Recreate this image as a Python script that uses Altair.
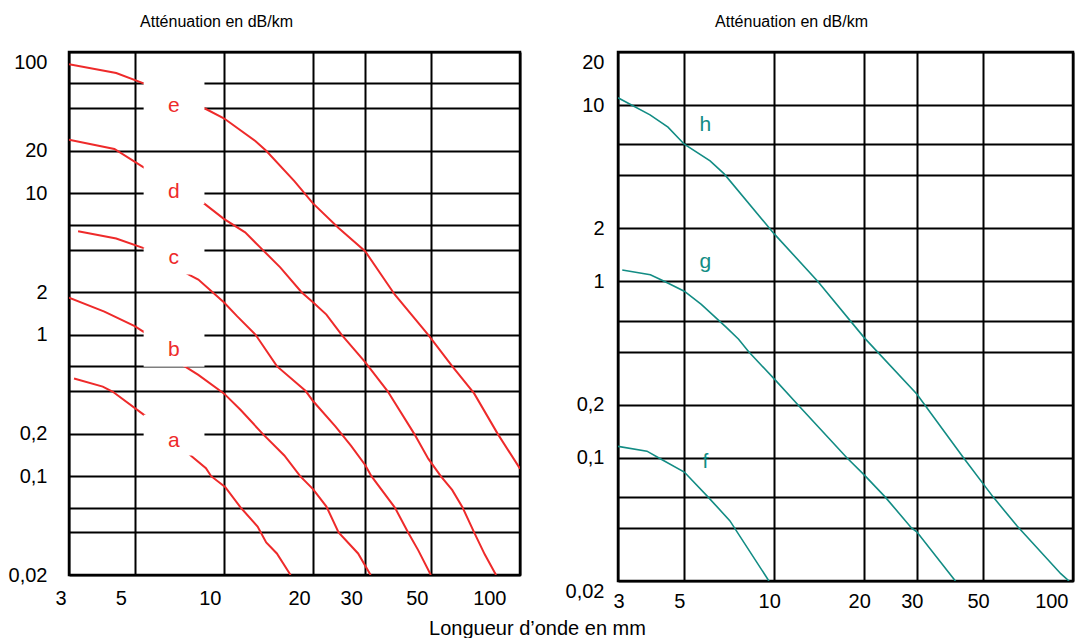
import altair as alt
import pandas as pd

FONT = "Liberation Sans"
RED = "#EE2A2A"
TEAL = "#128C84"

# Axis values
x_ticks = [3, 5, 10, 20, 30, 50, 100]
left_grid_y = [0.02, 0.04, 0.06, 0.1, 0.2, 0.4, 0.6, 1, 2, 4, 6, 10, 20, 40, 60, 100]
left_tick_labels = [0.02, 0.1, 0.2, 1, 2, 10, 20, 100]
right_grid_y = [0.02, 0.04, 0.06, 0.1, 0.2, 0.4, 0.6, 1, 2, 4, 6, 10, 20]
right_tick_labels = [0.02, 0.1, 0.2, 1, 2, 10, 20]

# Left panel curves (wavelength in mm, attenuation in dB/km)
a_x = [3.12, 3.9, 4.22, 5.43, 7.8, 8.7, 9.06, 10.1, 11.4, 13.0, 13.9, 15.1, 16.8]
a_y = [0.49, 0.43, 0.395, 0.267, 0.138, 0.114, 0.1, 0.084, 0.06, 0.044, 0.034, 0.0284, 0.02]
b_x = [3, 3.95, 5, 5.36, 7.36, 8.2, 10, 11.4, 13.5, 16, 18.1, 20, 22.2, 24.4, 28.4, 31.3]
b_y = [1.83, 1.46, 1.15, 1.05, 0.6, 0.52, 0.385, 0.294, 0.2, 0.14, 0.1, 0.081, 0.061, 0.04, 0.0284, 0.02]
c_x = [3.22, 4.33, 5.36, 7.67, 8.2, 10, 11.1, 12.8, 15.1, 18.9, 20, 23.8, 26.9, 30, 31.5, 37.8, 41.9, 45.3, 50]
c_y = [5.4, 4.8, 4.1, 2.64, 2.46, 1.7, 1.35, 1.0, 0.6, 0.4, 0.34, 0.225, 0.164, 0.12, 0.1, 0.06, 0.04, 0.03, 0.02]
d_x = [3, 4.27, 5.36, 8.57, 10, 11.8, 13.5, 15.5, 18.3, 20, 22.2, 25, 30, 35.7, 43.9, 49, 54, 59, 64, 70, 76, 83]
d_y = [24, 20.6, 15.3, 8.5, 6.6, 5.3, 4.0, 3.0, 2.0, 1.7, 1.39, 1.0, 0.64, 0.4, 0.2, 0.133, 0.1, 0.08, 0.06, 0.04, 0.028, 0.02]
e_x = [3, 4.33, 5.36, 8.6, 10, 12.8, 13.9, 17.3, 20, 24.4, 30, 37.8, 49, 59, 70, 84, 100]
e_y = [82, 71, 60, 40, 34, 23.4, 20, 12.2, 8.5, 5.7, 3.9, 1.92, 1.0, 0.6, 0.385, 0.2, 0.113]

# Right panel curves
f_x = [3, 3.75, 4.1, 5, 6.0, 7.1, 9.6]
f_y = [0.116, 0.109, 0.1, 0.083, 0.06, 0.044, 0.02]
g_x = [3.1, 3.85, 4.3, 5, 5.7, 6.9, 7.6, 8.2, 10, 12, 17.5, 20, 23.5, 28.8, 30, 40.4]
g_y = [1.16, 1.09, 1.0, 0.88, 0.74, 0.55, 0.47, 0.4, 0.28, 0.2, 0.1, 0.08, 0.06, 0.04, 0.038, 0.02]
h_x = [3, 3.84, 4.41, 5, 6.1, 6.8, 10, 14, 20, 30, 43, 54, 65, 91, 97]
h_y = [11.0, 8.8, 7.5, 6.0, 4.83, 4.07, 1.86, 1.0, 0.48, 0.23, 0.1, 0.06, 0.041, 0.022, 0.02]

# Curve letters and their white label boxes (left panel)
left_names = ["a", "b", "c", "d", "e"]
left_letter_x = [6.78, 6.78, 6.78, 6.78, 6.78]
left_letter_y = [0.16, 0.71, 3.15, 9.3, 37.7]
box_x1 = [5.36, 5.36, 5.36, 5.36, 5.36]
box_x2 = [8.6, 8.6, 8.6, 8.6, 8.6]
box_top = [0.272, 1.07, 4.16, 15.6, 61.5]
box_bottom = [0.14, 0.595, 2.67, 8.4, 36.1]

right_names = ["f", "g", "h"]
right_letter_x = [5.88, 5.88, 5.88]
right_letter_y = [0.0874, 1.19, 7.1]


def curves(spec):
    rows = []
    for name, xs, ys in spec:
        for xv, yv in zip(xs, ys):
            rows.append({"curve": name, "x": xv, "y": yv})
    return pd.DataFrame(rows)


left_df = curves([("a", a_x, a_y), ("b", b_x, b_y), ("c", c_x, c_y), ("d", d_x, d_y), ("e", e_x, e_y)])
right_df = curves([("f", f_x, f_y), ("g", g_x, g_y), ("h", h_x, h_y)])
left_lab = pd.DataFrame({"name": left_names, "x": left_letter_x, "y": left_letter_y,
                         "x1": box_x1, "x2": box_x2, "y1": box_top, "y2": box_bottom})
right_lab = pd.DataFrame({"name": right_names, "x": right_letter_x, "y": right_letter_y})


def label_expr(vals):
    test = " || ".join(f"datum.value == {v}" for v in vals)
    return f"({test}) ? datum.label : ''"


def panel(df, lab, ydom, grid_y, lab_y, top_test, color, width, height, title_x,
          y_label_pad, x_label_pad, x_label_offset, with_boxes, x_title):
    xscale = alt.Scale(type="log", domain=[3, 100], nice=False)
    yscale = alt.Scale(type="log", domain=ydom, nice=False)
    xaxis_kwargs = dict(values=x_ticks, format="~g", grid=True, ticks=False, domain=False,
                        labelFlush=True, labelPadding=x_label_pad,
                        labelOffset=x_label_offset)
    if x_title:
        xaxis_kwargs.update(title="Longueur d’onde en mm", titleX=468, titleY=59,
                            titleAlign="center", titleBaseline="alphabetic",
                            titleFontSize=20)
    else:
        xaxis_kwargs.update(title=None)
    x_enc = alt.X("x:Q", scale=xscale, axis=alt.Axis(**xaxis_kwargs))
    y_enc = alt.Y("y:Q", scale=yscale, axis=alt.Axis(
        values=grid_y, format="~g", labelExpr=label_expr(lab_y), grid=True, ticks=False,
        domain=False, labelPadding=y_label_pad, labelOverlap=False,
        labelBaseline={"condition": {"test": top_test, "value": "top"}, "value": "middle"},
        title="Atténuation en dB/km", titleAngle=0, titleX=title_x, titleY=-26,
        titleAlign="center", titleBaseline="alphabetic", titleFontSize=16))

    lines = alt.Chart(df).mark_line(color=color, strokeWidth=2 if color == RED else 1.6,
                                    clip=True).encode(
        x=x_enc, y=y_enc, detail="curve:N")
    layers = [lines]
    if with_boxes:
        boxes = alt.Chart(lab).mark_rect(fill="white").encode(
            x="x1:Q", x2="x2:Q", y="y1:Q", y2="y2:Q")
        layers.append(boxes)
    texts = alt.Chart(lab).mark_text(color=color, fontSize=21, font=FONT,
                                     baseline="alphabetic", align="center").encode(
        x="x:Q", y="y:Q", text="name:N")
    layers.append(texts)
    return alt.layer(*layers).properties(width=width, height=height)


left = panel(left_df, left_lab, [0.02, 100], left_grid_y, left_tick_labels,
             "datum.value == 100", RED, 451, 523, 147, 22, 13, -14, True, True)
right = panel(right_df, right_lab, [0.02, 20], right_grid_y, right_tick_labels,
              "datum.value == 20 || datum.value == 0.02", TEAL, 455, 529, 173, 14, 10, -5,
              False, False)

chart = alt.hconcat(left, right, spacing=98, bounds="flush").properties(
    padding={"left": 6, "top": 11, "right": 0, "bottom": 0},
    background="white",
).configure_view(
    stroke="black", strokeWidth=2.5
).configure_axis(
    gridColor="black", gridWidth=2, gridOpacity=1,
    labelFont=FONT, labelFontSize=20, labelColor="black",
    titleFont=FONT, titleColor="black", titleFontWeight="normal",
)

chart.save("out.html", embed_options={
    "renderer": "svg", "actions": False,
    "formatLocale": {"decimal": ",", "thousands": "\u00a0", "grouping": [3],
                     "currency": ["", "\u00a0€"]},
})
